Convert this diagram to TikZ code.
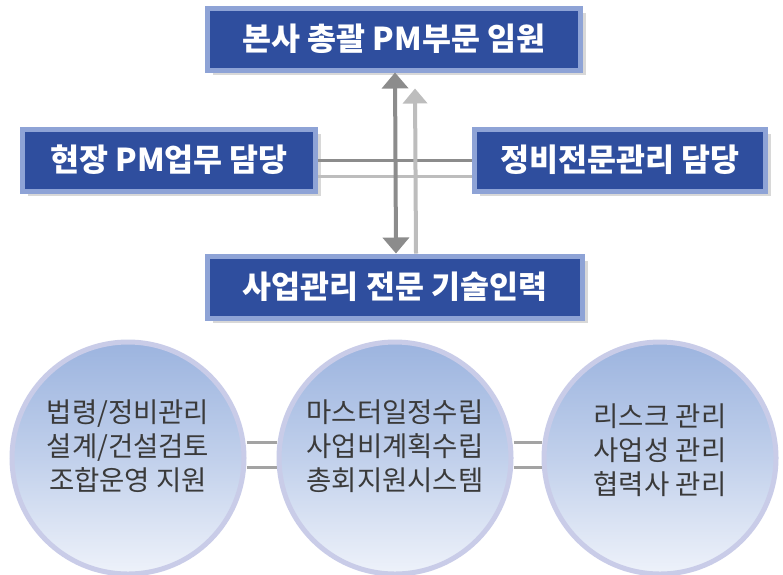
\documentclass[tikz,border=0pt]{standalone}
\usepackage{fontspec}
\setmainfont{Noto Sans CJK KR}
\usetikzlibrary{shadows,arrows.meta}
\definecolor{boxblue}{HTML}{2F4E9E}
\definecolor{boxedge}{HTML}{8EA3D6}
\definecolor{darkline}{HTML}{8C8C8C}
\definecolor{lightline}{HTML}{BDBDBD}
\definecolor{rim}{HTML}{C9CCE8}
\definecolor{balltop}{HTML}{9CB4DF}
\definecolor{ballbot}{HTML}{EEF2FA}
\definecolor{balltext}{HTML}{3A3A3A}
\begin{document}
\begin{tikzpicture}[x=1pt,y=-1pt,
  box/.style={fill=boxblue, draw=boxedge, line width=5pt, minimum height=62pt,
    inner sep=0pt, text=white, font=\bfseries\fontsize{31.5}{32}\selectfont,
    drop shadow={shadow xshift=5pt, shadow yshift=-5pt, fill=black!30}},
  darkarr/.style={draw=darkline, line width=4pt,
    {Triangle[width=26pt,length=16pt]}-{Triangle[width=26pt,length=16pt]}},
  lightarr/.style={draw=lightline, line width=4pt, -{Triangle[width=24pt,length=15pt]}},
  hdark/.style={draw=darkline, line width=3pt},
  hlight/.style={draw=lightline, line width=3pt},
  bubble/.style={circle, minimum size=232pt, inner sep=0pt, draw=rim, line width=5pt,
    top color=balltop, bottom color=ballbot, middle color=balltop!55!ballbot},
  bubtext/.style={align=center, text=balltext, font=\fontsize{27.5}{34}\selectfont, inner sep=0pt},
  link/.style={draw=darkline!80, line width=3pt}
]
\useasboundingbox (0,0) rectangle (783,574);
\fill[white] (0,0) rectangle (783,574);

% boxes
\node[box, minimum width=373pt] (top) at (394,39) {본사 총괄 PM부문 임원};
\node[box, minimum width=293pt] (left) at (169,160) {현장 PM업무 담당};
\node[box, minimum width=291pt] (right) at (620,160) {정비전문관리 담당};
\node[box, minimum width=375pt] (bot) at (395,287) {사업관리 전문 기술인력};

% connectors between boxes
\draw[hdark] (left.east) -- (right.west);
\draw[hlight] ([yshift=-16pt]left.east) -- ([yshift=-16pt]right.west);
\draw[lightarr] ([xshift=21pt]bot.north) -- ([xshift=21pt,yshift=-16pt]top.south);
\draw[darkarr] ([xshift=1pt]top.south) -- ([xshift=1pt]bot.north);

% bubbles
\node[bubble] (c1) at (128,458) {};
\node[bubble] (c2) at (395,458) {};
\node[bubble] (c3) at (660,458) {};

\draw[link] ([yshift=16pt]c1.east) -- ([yshift=16pt]c2.west);
\draw[link] ([yshift=-9pt]c1.east) -- ([yshift=-9pt]c2.west);
\draw[link] ([yshift=16pt]c2.east) -- ([yshift=16pt]c3.west);
\draw[link] ([yshift=-9pt]c2.east) -- ([yshift=-9pt]c3.west);

\node[bubtext] (t1) at ([yshift=12pt]c1.center) {법령/정비관리\\설계/건설검토\\조합운영 지원};
\node[bubtext] (t2) at ([yshift=12pt]c2.center) {마스터일정수립\\사업비계획수립\\총회지원시스템};
\node[bubtext] (t3) at ([yshift=8pt]c3.center) {리스크 관리\\사업성 관리\\협력사 관리};
\end{tikzpicture}
\end{document}
